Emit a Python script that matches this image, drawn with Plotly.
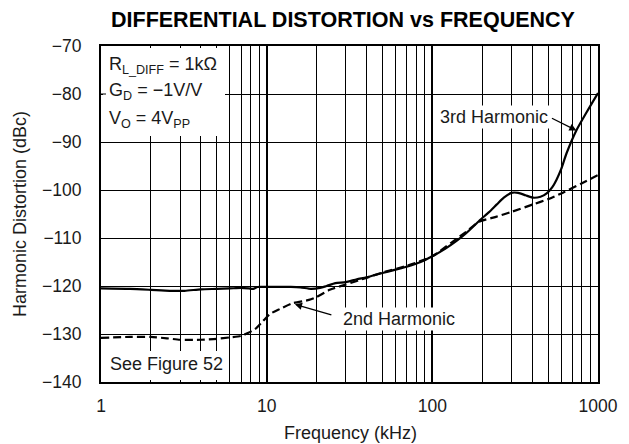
import math
import plotly.graph_objects as go

# Frequency axis points (kHz) and harmonic distortion (dBc)
freq_3rd = [1, 1.5, 2, 2.6, 3.2, 4, 5, 6, 7, 7.8, 8.3, 8.8, 10, 12, 14, 16, 18.5,
            21, 23, 26, 30, 35, 40, 50, 60, 70, 85, 100, 120, 140, 160, 192, 220,
            245, 270, 300, 330, 365, 405, 450, 490, 530, 561, 600, 645, 740, 850, 1000]
hd_3rd = [-120.5, -120.6, -120.8, -121.0, -121.0, -120.7, -120.6, -120.5, -120.4,
          -120.5, -120.6, -120.2, -120.2, -120.2, -120.2, -120.3, -120.6,
          -120.4, -120.0, -119.4, -119.2, -118.6, -118.2, -117.3, -116.6, -116.0,
          -115.0, -113.8, -112.2, -110.6, -109.0, -106.4, -104.6,
          -103.0, -101.6, -100.6, -100.6, -101.1, -101.6, -101.4, -100.7, -99.4, -97.9,
          -95.6, -92.4, -87.6, -83.9, -79.8]

freq_2nd = [1, 1.5, 2, 2.5, 3, 4, 5, 6, 7, 7.7, 8.5, 9.5, 10.5, 12, 14.3, 18, 20,
            24, 30, 40, 50, 70, 100, 130, 160, 192, 242, 304, 405, 500, 610, 800, 1000]
hd_2nd = [-130.8, -130.6, -130.6, -130.9, -131.2, -131.2, -131.0, -130.7, -130.4,
          -129.8, -129.0, -127.3, -125.8, -124.8, -123.6, -122.9, -122.3,
          -120.8, -119.7, -118.3, -117.2, -115.8, -113.8, -111.0, -108.7, -106.6,
          -105.6, -104.5, -103.0, -101.9, -100.6, -98.6, -96.9]

x_ticks = [1, 10, 100, 1000]
x_minor = [m * d for d in (1, 10, 100) for m in range(2, 10)]
y_ticks = [-70, -80, -90, -100, -110, -120, -130, -140]
y_labels = ["\u221270", "\u221280", "\u221290", "\u2212100", "\u2212110",
            "\u2212120", "\u2212130", "\u2212140"]

FONT = "Liberation Sans, Arial, Helvetica, sans-serif"
INK = "#1a1a1a"
TXT = 18

fig = go.Figure()
fig.add_trace(go.Scatter(x=freq_2nd, y=hd_2nd, mode="lines", name="2nd Harmonic",
                         line=dict(color="black", width=2.2, dash="8px,4px",
                                   shape="spline", smoothing=0.6)))
fig.add_trace(go.Scatter(x=freq_3rd, y=hd_3rd, mode="lines", name="3rd Harmonic",
                         line=dict(color="black", width=2.2,
                                   shape="spline", smoothing=0.6)))

L, R, T, B = 101, 31, 46, 62
W, H = 629, 444
pw, ph = W - L - R, H - T - B


def px(xp):
    return (xp - L) / pw


def py(yp):
    return (H - B - yp) / ph


# white panels behind the condition text blocks
for x0, y0, x1, y1 in [(103, 48, 225, 136), (103, 351, 228, 380)]:
    fig.add_shape(type="rect", xref="paper", yref="paper",
                  x0=px(x0), x1=px(x1), y0=py(y1), y1=py(y0),
                  fillcolor="white", line=dict(width=0), layer="above")

# short inside ticks kept visible along the frame edges of those panels
for xv in [2, 3, 4, 5]:
    for y0, y1 in [(-70, -71.0), (-140, -139.0)]:
        fig.add_shape(type="line", xref="x", yref="y",
                      x0=math.log10(xv), x1=math.log10(xv), y0=y0, y1=y1,
                      line=dict(color="black", width=1), layer="above")
fig.add_shape(type="line", xref="paper", yref="y", x0=0, x1=px(L + 5), y0=-80, y1=-80,
              line=dict(color="black", width=1), layer="above")

ann = []
cond = ["R<sub>L_DIFF</sub> = 1k\u03a9", "G<sub>D</sub> = \u22121V/V",
        "V<sub>O</sub> = 4V<sub>PP</sub>"]
for i, t in enumerate(cond):
    ann.append(dict(text=t, xref="paper", yref="paper", x=px(107), y=py(65 + 27 * i),
                    xanchor="left", yanchor="middle", showarrow=False,
                    font=dict(size=TXT, color=INK, family=FONT)))
ann.append(dict(text="See Figure 52", xref="paper", yref="paper", x=px(108), y=py(364),
                xanchor="left", yanchor="middle", showarrow=False,
                font=dict(size=TXT, color=INK, family=FONT)))

# curve labels with arrows
ann.append(dict(text="3rd Harmonic", x=math.log10(235), y=-84.8, xref="x", yref="y",
                xanchor="center", yanchor="middle",
                showarrow=False, bgcolor="white", borderpad=1,
                font=dict(size=TXT, color=INK, family=FONT)))
ann.append(dict(text="", x=math.log10(741), y=-87.6, xref="x", yref="y",
                showarrow=True, ax=-26, ay=-13, arrowhead=2, arrowsize=1.1,
                arrowwidth=1.3, arrowcolor="black"))
ann.append(dict(text="2nd Harmonic", x=math.log10(63), y=-126.9, xref="x", yref="y",
                xanchor="center", yanchor="middle",
                showarrow=False, bgcolor="white", borderpad=1,
                font=dict(size=TXT, color=INK, family=FONT)))
ann.append(dict(text="", x=math.log10(14.8), y=-123.8, xref="x", yref="y",
                showarrow=True, ax=38, ay=11, arrowhead=2, arrowsize=1.1,
                arrowwidth=1.3, arrowcolor="black"))

# titles
ann.append(dict(text="<b>DIFFERENTIAL DISTORTION vs FREQUENCY</b>", xref="paper",
                yref="paper", x=px(343), y=py(20), xanchor="center", yanchor="middle",
                showarrow=False, font=dict(size=21.5, color="black", family=FONT)))
ann.append(dict(text="Frequency (kHz)", xref="paper", yref="paper", x=px(350),
                y=py(433), xanchor="center", yanchor="middle", showarrow=False,
                font=dict(size=TXT, color=INK, family=FONT)))
ann.append(dict(text="Harmonic Distortion (dBc)", xref="paper", yref="paper", x=px(20),
                y=py(214), xanchor="center", yanchor="middle", showarrow=False,
                textangle=-90, font=dict(size=TXT, color=INK, family=FONT)))

fig.update_layout(
    width=W, height=H, margin=dict(l=L, r=R, t=T, b=B),
    paper_bgcolor="white", plot_bgcolor="white", showlegend=False,
    font=dict(family=FONT, size=17.5, color=INK),
    annotations=ann,
)
fig.update_xaxes(
    type="log", range=[0, 3], tickvals=x_ticks, ticktext=[str(v) for v in x_ticks],
    showgrid=True, gridcolor="black", gridwidth=1.6,
    ticks="inside", ticklen=5, tickcolor="black", tickwidth=1,
    showline=True, linecolor="black", linewidth=2, mirror="allticks",
    ticklabelstandoff=7,
    minor=dict(tickvals=x_minor, showgrid=True, gridcolor="black", gridwidth=1,
               ticks="inside", ticklen=5, tickcolor="black"),
    zeroline=False,
)
fig.update_yaxes(
    range=[-140, -70], tickvals=y_ticks, ticktext=y_labels,
    showgrid=True, gridcolor="black", gridwidth=1.2,
    ticks="inside", ticklen=5, tickcolor="black", tickwidth=1,
    showline=True, linecolor="black", linewidth=2, mirror="allticks",
    ticklabelstandoff=14, zeroline=False,
)

fig.write_html("out.html")
